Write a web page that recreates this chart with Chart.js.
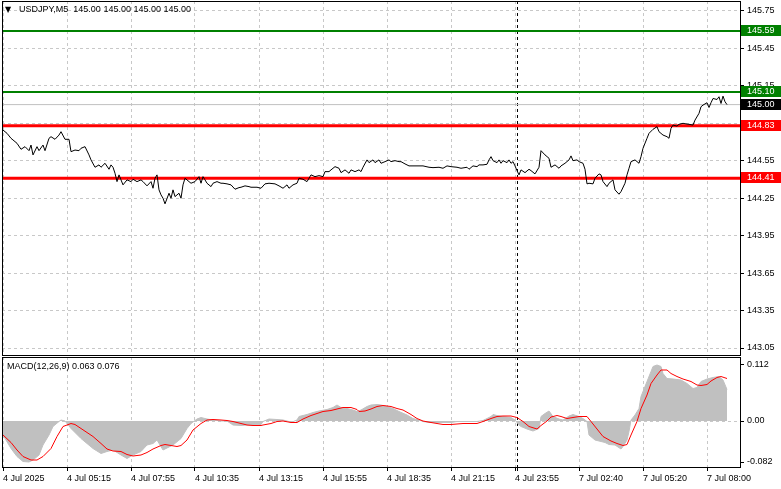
<!DOCTYPE html>
<html>
<head>
<meta charset="utf-8">
<script src="https://cdn.jsdelivr.net/npm/chart.js@4.4.1/dist/chart.umd.min.js"></script>
<style>
  body { margin: 0; background: #fff; width: 781px; height: 489px; overflow: hidden; position: relative; font-family: "Liberation Sans", Arial, sans-serif; }
  canvas { position: absolute; left: 0; }
  #main { top: 0; }
  #macd { top: 356px; }
  .lbl { position: absolute; font-size: 9px; line-height: 11px; color: #000; white-space: pre; }
</style>
</head>
<body>
<canvas id="main" width="781" height="356"></canvas>
<canvas id="macd" width="781" height="133"></canvas>
<div class="lbl" style="left:5px;top:4px;font-family:'DejaVu Sans';font-size:8px">▼</div>
<div class="lbl" id="title" style="left:19px;top:4px"></div>
<div class="lbl" id="macdTitle" style="left:7px;top:361px"></div>
<script>
// USDJPY M5, one x unit = one 5 minute bar

const timeLabels = ['4 Jul 2025', '4 Jul 05:15', '4 Jul 07:55', '4 Jul 10:35', '4 Jul 13:15', '4 Jul 15:55',
  '4 Jul 18:35', '4 Jul 21:15', '4 Jul 23:55', '7 Jul 02:40', '7 Jul 05:20', '7 Jul 08:00'];
const labelStep = 32;        // bars between time labels
const sessionBreakBar = 257; // week separator

const priceTicks = [143.05, 143.35, 143.65, 143.95, 144.25, 144.55, 144.85, 145.15, 145.45, 145.75];
const macdTicks = [0.112, 0, -0.082];

const resistanceLevels = [145.59, 145.10];
const supportLevels = [144.83, 144.41];
const lastPrice = 145.00;
const macdLegend = [0.063, 0.076];

// close prices (bar number / close)
const priceBar = [0,2,4,7,9,11,13,14,15,17,18,20,21,23,24,26,28,29,31,33,34,36,38,39,41,43,44,46,48,49,
  51,53,54,55,56,57,58,59,60,62,64,65,67,69,70,72,74,75,76,77,78,79,80,81,83,84,85,86,88,89,
  90,91,93,94,96,98,99,100,101,102,104,105,107,109,110,112,114,116,118,119,121,123,124,127,129,
  131,133,136,138,140,142,143,145,147,148,150,152,153,154,156,158,160,161,163,164,166,168,169,171,
  173,174,176,178,179,180,182,183,185,186,188,189,191,193,194,196,198,199,201,203,205,208,210,213,
  215,218,220,222,224,227,229,232,233,235,237,238,240,242,243,244,245,247,248,249,250,252,253,254,
  255,256,257,258,259,261,263,264,266,268,269,271,273,274,276,278,279,281,283,284,285,287,288,290,
  291,292,293,295,296,298,299,300,302,303,305,306,308,309,311,312,313,314,316,318,319,320,322,323,
  325,327,328,330,332,333,334,335,337,338,340,342,343,345,346,348,349,350,352,353,354,355,357,358,
  359,360,361,362];
const priceClose = [144.796,144.770,144.730,144.690,144.642,144.663,144.631,144.676,144.597,144.663,
  144.631,144.676,144.631,144.730,144.743,144.722,144.756,144.783,144.722,144.722,144.623,144.636,
  144.631,144.650,144.663,144.597,144.557,144.498,144.517,144.498,144.530,144.482,144.517,144.498,
  144.450,144.383,144.437,144.397,144.357,144.397,144.383,144.402,144.383,144.397,144.383,144.349,
  144.383,144.330,144.410,144.437,144.317,144.277,144.250,144.205,144.290,144.250,144.317,144.263,
  144.290,144.250,144.357,144.410,144.383,144.370,144.383,144.423,144.370,144.423,144.397,144.370,
  144.343,144.370,144.383,144.370,144.370,144.365,144.357,144.322,144.335,144.338,144.349,144.343,
  144.338,144.338,144.330,144.365,144.370,144.365,144.349,144.330,144.357,144.330,144.357,144.370,
  144.410,144.402,144.383,144.410,144.437,144.423,144.431,144.423,144.463,144.463,144.477,144.503,
  144.490,144.455,144.477,144.450,144.477,144.463,144.477,144.463,144.498,144.557,144.535,144.557,
  144.535,144.557,144.530,144.543,144.557,144.543,144.551,144.543,144.543,144.525,144.509,144.509,
  144.509,144.509,144.498,144.495,144.498,144.490,144.509,144.503,144.498,144.490,144.498,144.482,
  144.509,144.503,144.517,144.517,144.522,144.557,144.583,144.551,144.535,144.557,144.530,144.551,
  144.535,144.557,144.530,144.543,144.509,144.471,144.437,144.477,144.455,144.482,144.471,144.445,
  144.498,144.631,144.597,144.570,144.498,144.517,144.490,144.509,144.530,144.557,144.589,144.551,
  144.557,144.543,144.530,144.482,144.365,144.370,144.365,144.410,144.445,144.437,144.383,144.343,
  144.370,144.397,144.317,144.282,144.303,144.370,144.437,144.490,144.543,144.557,144.530,144.583,
  144.650,144.730,144.770,144.802,144.823,144.783,144.756,144.743,144.730,144.810,144.836,144.828,
  144.842,144.850,144.844,144.842,144.836,144.876,144.930,144.983,144.996,145.015,144.977,145.015,
  145.049,145.041,145.063,145.009,145.068,145.023,145.000];

// MACD(12,26,9) main line, drawn as histogram
const macdBar = [0,4,7,10,13,15,18,20,23,25,28,29,31,34,39,42,45,49,52,55,59,62,65,69,72,75,77,80,85,89,
  92,94,97,99,102,105,109,112,115,119,122,125,129,130,133,137,140,143,144,147,148,152,155,158,162,
  165,167,169,172,175,177,179,182,184,187,189,192,195,198,202,205,208,210,213,217,220,224,227,230,
  234,237,240,244,245,247,250,254,256,258,259,262,265,268,269,271,273,275,278,280,283,285,288,290,
  292,293,296,298,301,303,306,309,310,312,313,314,316,318,319,322,324,325,327,329,330,332,335,339,
  342,345,347,349,352,355,358,360,362];
const macdMain = [-0.028,-0.055,-0.071,-0.081,-0.082,-0.078,-0.068,-0.048,-0.028,-0.011,-0.001,0.002,
  0,-0.015,-0.035,-0.045,-0.055,-0.065,-0.061,-0.058,-0.068,-0.075,-0.068,-0.061,-0.048,-0.045,-0.038,
  -0.058,-0.048,-0.035,-0.015,-0.005,0.004,0.007,0.004,0.002,0,0,-0.008,-0.009,-0.008,-0.008,-0.007,
  -0.001,0.004,0.003,0.002,-0.001,-0.003,0.002,0.009,0.013,0.017,0.020,0.023,0.027,0.032,0.027,0.025,
  0.022,0.019,0.022,0.029,0.032,0.033,0.032,0.029,0.025,0.019,0.012,0.005,0.002,-0.001,-0.003,-0.003,
  -0.003,-0.003,-0.001,-0.001,-0.001,-0.001,0.001,0.009,0.013,0.011,0.009,0.007,0.002,-0.008,-0.011,
  -0.016,-0.020,-0.015,0.009,0.015,0.020,0.009,0.004,0.002,0.010,0.013,0.009,0.005,-0.001,-0.028,
  -0.038,-0.040,-0.043,-0.047,-0.048,-0.056,-0.051,-0.038,-0.021,0.002,0.012,0.025,0.049,0.079,0.099,
  0.109,0.112,0.109,0.095,0.085,0.084,0.082,0.075,0.065,0.067,0.079,0.084,0.087,0.089,0.082,0.063];

// signal line
const signalBar = [0,4,7,10,14,17,20,24,27,30,34,36,39,42,45,49,52,55,59,62,65,69,72,75,79,81,84,87,89,
  92,95,99,102,105,109,112,115,119,122,125,129,130,134,137,140,144,147,150,154,157,160,164,167,170,
  174,177,178,181,184,187,190,194,197,200,204,207,210,214,217,220,224,227,230,234,237,240,244,247,
  250,254,257,260,263,267,269,272,274,277,279,282,285,288,292,294,297,300,304,307,310,312,314,317,
  319,322,324,327,329,332,334,337,340,344,347,349,352,354,357,359,362];
const signalVals = [-0.028,-0.043,-0.058,-0.071,-0.078,-0.078,-0.071,-0.055,-0.031,-0.011,-0.005,
  -0.007,-0.015,-0.023,-0.031,-0.045,-0.056,-0.060,-0.061,-0.067,-0.070,-0.068,-0.063,-0.056,-0.049,
  -0.047,-0.049,-0.051,-0.049,-0.038,-0.018,-0.005,0.002,0.003,0.002,0.001,-0.001,-0.005,-0.008,
  -0.009,-0.009,-0.008,-0.005,-0.001,0,-0.003,-0.003,0.004,0.011,0.015,0.019,0.021,0.024,0.027,0.027,
  0.023,0.019,0.020,0.024,0.029,0.031,0.029,0.025,0.022,0.013,0.005,0,-0.003,-0.005,-0.007,-0.007,
  -0.006,-0.005,-0.005,-0.005,-0.001,0.005,0.009,0.010,0.010,0.007,-0.001,-0.011,-0.016,-0.009,0,
  0.008,0.011,0.009,0.005,0.007,0.009,0.009,-0.001,-0.016,-0.031,-0.040,-0.045,-0.049,-0.047,-0.028,
  -0.001,0.025,0.052,0.075,0.092,0.102,0.102,0.095,0.089,0.084,0.079,0.072,0.071,0.073,0.080,0.087,
  0.089,0.085];

const xMin = -0.5, xMax = 368.5;

document.getElementById('title').textContent =
  'USDJPY,M5  ' + [lastPrice, lastPrice, lastPrice, lastPrice].map(v => v.toFixed(2)).join(' ');
document.getElementById('macdTitle').textContent =
  'MACD(12,26,9) ' + macdLegend.map(v => v.toFixed(3)).join(' ');

Chart.defaults.font.family = '"Liberation Sans", Arial, sans-serif';
Chart.defaults.font.size = 9;
Chart.defaults.color = '#000';

const pts = (xs, ys) => xs.map((x, i) => ({ x: x, y: ys[i] }));
const flat = v => [{ x: xMin, y: v }, { x: xMax, y: v }];
const gridBars = timeLabels.map((l, i) => i * labelStep).concat([sessionBreakBar]);
const gridColor = '#c8c8c8';

// labels sit outside the plot like in MT4, so drop the padding chart.js adds for them
function noPad(s) {
  s.paddingTop = 0; s.paddingBottom = 0; s.paddingLeft = 0; s.paddingRight = 0;
}

function timeAxis(showLabels) {
  return {
    type: 'linear', min: xMin, max: xMax,
    afterBuildTicks: s => { s.ticks = gridBars.map(v => ({ value: v })); },
    afterFit: s => { s.height = showLabels ? 22 : 0; noPad(s); },
    ticks: {
      display: showLabels, autoSkip: false, maxRotation: 0, align: 'start', padding: 2,
      callback: v => v % labelStep === 0 ? timeLabels[v / labelStep] : ''
    },
    grid: {
      color: c => c.tick && c.tick.value === sessionBreakBar ? '#000' : gridColor,
      drawTicks: showLabels, tickLength: 4, tickColor: '#000', tickBorderDash: []
    },
    border: { display: false, dash: [3, 3] }
  };
}

const framePlugin = {
  id: 'frame',
  afterDraw(chart) {
    const a = chart.chartArea, ctx = chart.ctx;
    ctx.save();
    ctx.strokeStyle = '#000';
    ctx.lineWidth = 1;
    ctx.setLineDash([]);
    ctx.strokeRect(a.left + 0.5, a.top + 0.5, a.right - a.left, a.bottom - a.top);
    ctx.restore();
  }
};

const priceTags = [
  { value: resistanceLevels[0], bg: '#008000' },
  { value: resistanceLevels[1], bg: '#008000' },
  { value: lastPrice, bg: '#000000' },
  { value: supportLevels[0], bg: '#ff0000' },
  { value: supportLevels[1], bg: '#ff0000' }
];

const tagPlugin = {
  id: 'tags',
  afterDraw(chart) {
    const y = chart.scales.y, ctx = chart.ctx;
    ctx.save();
    ctx.font = '9px "Liberation Sans", Arial, sans-serif';
    ctx.textBaseline = 'middle';
    priceTags.forEach(t => {
      const py = Math.round(y.getPixelForValue(t.value));
      ctx.fillStyle = t.bg;
      ctx.fillRect(y.left + 1, py - 6, chart.width - y.left - 1, 11);
      ctx.fillStyle = '#fff';
      ctx.fillText(t.value.toFixed(2), y.left + 7, py);
    });
    ctx.restore();
  }
};

new Chart('main', {
  type: 'line',
  data: {
    datasets: [
      { data: pts(priceBar, priceClose), borderColor: '#000', borderWidth: 1 },
      { data: flat(lastPrice), borderColor: '#c0c0c0', borderWidth: 1 },
      { data: flat(resistanceLevels[0]), borderColor: '#008000', borderWidth: 2 },
      { data: flat(resistanceLevels[1]), borderColor: '#008000', borderWidth: 2 },
      { data: flat(supportLevels[0]), borderColor: '#ff0000', borderWidth: 3 },
      { data: flat(supportLevels[1]), borderColor: '#ff0000', borderWidth: 3 }
    ]
  },
  options: {
    responsive: false,
    animation: false,
    layout: { padding: { left: 2, top: 1, right: 0, bottom: 1 } },
    elements: { point: { radius: 0 }, line: { tension: 0 } },
    plugins: { legend: { display: false }, tooltip: { enabled: false } },
    scales: {
      x: timeAxis(false),
      y: {
        position: 'right', min: 142.994, max: 145.830,
        afterBuildTicks: s => { s.ticks = priceTicks.map(v => ({ value: v })); },
        afterFit: s => { s.width = 41; noPad(s); },
        ticks: { autoSkip: false, padding: 3, callback: v => v.toFixed(2) },
        grid: { color: gridColor, tickLength: 4, tickColor: '#000', tickBorderDash: [] },
        border: { display: false, dash: [3, 3] }
      }
    }
  },
  plugins: [framePlugin, tagPlugin]
});

new Chart('macd', {
  type: 'line',
  data: {
    datasets: [
      { data: pts(signalBar, signalVals), borderColor: '#ff0000', borderWidth: 1 },
      { data: pts(macdBar, macdMain), borderColor: '#c0c0c0', borderWidth: 1,
        backgroundColor: '#c0c0c0', fill: 'origin' }
    ]
  },
  options: {
    responsive: false,
    animation: false,
    layout: { padding: { left: 2, top: 1, right: 0, bottom: 0 } },
    elements: { point: { radius: 0 }, line: { tension: 0 } },
    plugins: { legend: { display: false }, tooltip: { enabled: false } },
    scales: {
      x: timeAxis(true),
      y: {
        position: 'right', min: -0.092, max: 0.128,
        afterBuildTicks: s => { s.ticks = macdTicks.map(v => ({ value: v })); },
        afterFit: s => { s.width = 41; noPad(s); },
        ticks: { autoSkip: false, padding: 3, callback: v => v === 0 ? '0.00' : v.toFixed(3) },
        grid: {
          color: c => c.tick && c.tick.value === 0 ? gridColor : 'rgba(0,0,0,0)',
          tickLength: 4, tickColor: '#000', tickBorderDash: []
        },
        border: { display: false, dash: [3, 3] }
      }
    }
  },
  plugins: [framePlugin]
});
</script>
</body>
</html>
